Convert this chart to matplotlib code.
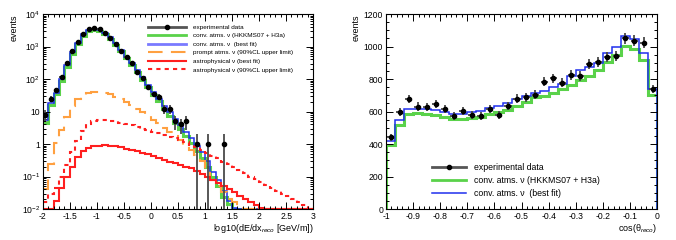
import numpy as np
import matplotlib
matplotlib.use("Agg")
import matplotlib.pyplot as plt
from matplotlib.lines import Line2D
from matplotlib.ticker import MultipleLocator, FixedLocator, LogLocator, NullFormatter, FuncFormatter

plt.rcParams['font.family'] = ['Liberation Sans', 'DejaVu Sans']
plt.rcParams['mathtext.fontset'] = 'custom'
plt.rcParams['mathtext.rm'] = 'Liberation Sans'
plt.rcParams['mathtext.it'] = 'Liberation Sans:italic'

# ---- left panel: energy loss proxy, 50 bins of 0.1 from -2 to 3 ----
dedx_edges = np.linspace(-2, 3, 51)

data_dedx = [8, 25, 47, 113, 305, 713, 1410, 2490, 3470, 3720,
             3380, 2550, 1875, 1230, 748, 465, 320, 165, 108, 56,
             35, 29, 12, 12, 5, 4, 5, 0, 1, 0,
             1, 0, 0, 1, 0, 0, 0, 0, 0, 0,
             0, 0, 0, 0, 0, 0, 0, 0, 0, 0]

conv_h3a_dedx = [4.6, 16, 34, 88, 240, 600, 1220, 2170, 3020, 3300,
                 3020, 2400, 1740, 1130, 710, 435, 268, 160, 96, 56,
                 33, 20.5, 12, 7.5, 4.6, 2.9, 1.8, 1.1, 0.62, 0.37,
                 0.2, 0.1, 0.05, 0.024, 0.014, 0.008, 0, 0, 0, 0,
                 0, 0, 0, 0, 0, 0, 0, 0, 0, 0]

conv_fit_dedx = [5.5, 18, 38, 100, 270, 660, 1330, 2350, 3250, 3550,
                 3250, 2600, 1900, 1250, 790, 490, 305, 185, 112, 66,
                 40, 25, 15, 9.5, 6, 3.8, 2.4, 1.5, 0.85, 0.55,
                 0.3, 0.14, 0.08, 0.036, 0.018, 0.011, 0, 0, 0, 0,
                 0, 0, 0, 0, 0, 0, 0, 0, 0, 0]

prompt_ul_dedx = [0.04, 0.25, 1.1, 2.8, 7, 15, 24, 32, 38, 41,
                  41, 38, 34, 29, 24, 19.5, 15.5, 12, 9.5, 7.2,
                  5.5, 4.3, 3.2, 2.4, 1.8, 1.35, 0.85, 0.66, 0.47, 0.3,
                  0.16, 0.08, 0.05, 0.033, 0.02, 0.016, 0.012, 0.008, 0, 0,
                  0, 0, 0, 0, 0, 0, 0, 0, 0, 0]

astro_fit_dedx = [0.005, 0.007, 0.018, 0.045, 0.1, 0.2, 0.4, 0.62, 0.78, 0.86,
                  0.9, 0.92, 0.9, 0.85, 0.79, 0.72, 0.66, 0.6, 0.54, 0.48,
                  0.42, 0.37, 0.33, 0.29, 0.255, 0.225, 0.2, 0.178, 0.148, 0.122,
                  0.1, 0.08, 0.063, 0.05, 0.041, 0.033, 0.026, 0.021, 0.017, 0.0135,
                  0.011, 0.009, 0, 0, 0, 0, 0, 0, 0, 0]

astro_ul_dedx = [0.016, 0.03, 0.045, 0.1, 0.22, 0.58, 1.25, 2.6, 4.2, 5.0,
                 5.4, 5.5, 5.3, 5.0, 4.6, 4.2, 3.8, 3.4, 3.0, 2.7,
                 2.4, 2.15, 1.9, 1.7, 1.5, 1.3, 1.12, 0.95, 0.8, 0.66,
                 0.54, 0.44, 0.36, 0.29, 0.235, 0.19, 0.155, 0.125, 0.1, 0.082,
                 0.066, 0.054, 0.044, 0.036, 0.03, 0.025, 0.021, 0.017, 0.013, 0.009]

# ---- right panel: zenith, 30 bins from -1 to 0 ----
cos_edges = np.linspace(-1, 0, 31)

data_cos = [442, 600, 676, 631, 627, 647, 614, 573, 602, 578,
            571, 614, 580, 635, 680, 688, 704, 784, 805, 778,
            825, 819, 891, 903, 938, 944, 1051, 1036, 1024, 739]

conv_h3a_cos = [395, 518, 586, 588, 586, 580, 565, 553, 553, 561,
                567, 586, 598, 610, 637, 661, 688, 696, 713, 737,
                766, 795, 819, 856, 907, 948, 1003, 987, 917, 702]

conv_fit_cos = [416, 545, 618, 618, 616, 610, 600, 586, 586, 598,
                606, 623, 635, 651, 678, 698, 713, 729, 750, 770,
                821, 854, 872, 897, 963, 995, 1063, 1044, 963, 737]

GREEN = '#5ad24a'
BLUE = '#1f2fee'
LIGHTBLUE = '#7a7aff'
ORANGE = '#ffa040'
RED = '#ff1f1f'
GRAY = '#4a4a4a'

fig = plt.figure(figsize=(6.76, 2.4), dpi=100)
ax1 = fig.add_axes([0.0632, 0.129, 0.400, 0.8125])
ax2 = fig.add_axes([0.571, 0.129, 0.401, 0.8125])

ymin = 1e-2


def floor(v):
    return np.clip(np.array(v, dtype=float), ymin, None)


def plain(v, pos):
    return '%g' % (round(v, 3) + 0.0)


ax1.stairs(floor(conv_h3a_dedx), dedx_edges, baseline=None, color=GREEN, lw=2.2)
ax1.stairs(floor(conv_fit_dedx), dedx_edges, baseline=None, color=BLUE, lw=1.1)
ax1.stairs(floor(prompt_ul_dedx), dedx_edges, baseline=None, color=ORANGE, lw=1.5,
           linestyle=(0, (7, 4)))
ax1.stairs(floor(astro_fit_dedx), dedx_edges, baseline=None, color=RED, lw=1.5)
ax1.stairs(floor(astro_ul_dedx), dedx_edges, baseline=None, color=RED, lw=1.5,
           linestyle=(0, (2, 2)))

centers = 0.5 * (dedx_edges[:-1] + dedx_edges[1:])
counts = np.array(data_dedx, dtype=float)
sel = counts > 0
ax1.errorbar(centers[sel], counts[sel], yerr=np.sqrt(counts[sel]), xerr=0.04,
             fmt='o', color='k', ecolor=GRAY, elinewidth=1.3, ms=3, capsize=0, zorder=5)

ax1.set_yscale('log')
ax1.set_xlim(-2, 3)
ax1.set_ylim(ymin, 1e4)
ax1.xaxis.set_major_locator(MultipleLocator(0.5))
ax1.xaxis.set_minor_locator(MultipleLocator(0.1))
ax1.xaxis.set_major_formatter(FuncFormatter(plain))
ax1.yaxis.set_major_locator(FixedLocator([1e-2, 1e-1, 1, 10, 1e2, 1e3, 1e4]))
ax1.yaxis.set_major_formatter(FuncFormatter(
    lambda v, p: {1e-2: '$10^{-2}$', 1e-1: '$10^{-1}$', 1: '1', 10: '10',
                  1e2: '$10^{2}$', 1e3: '$10^{3}$', 1e4: '$10^{4}$'}.get(v, '')))
ax1.yaxis.set_minor_locator(LogLocator(base=10, subs=np.arange(2, 10)))
ax1.yaxis.set_minor_formatter(NullFormatter())
ax1.set_ylabel('events', loc='top', fontsize=6.5, labelpad=2)
ax1.set_xlabel('log10(dE/dx$_{reco}$ [GeV/m])', loc='right', fontsize=6.5, labelpad=1)

handles1 = [
    Line2D([], [], color='#555555', lw=2, marker='o', ms=3, mfc='k', mec='k'),
    Line2D([], [], color=GREEN, lw=2),
    Line2D([], [], color=LIGHTBLUE, lw=2),
    Line2D([], [], color=ORANGE, lw=1.5, linestyle=(0, (7, 4))),
    Line2D([], [], color=RED, lw=1.5),
    Line2D([], [], color=RED, lw=1.5, linestyle=(0, (2, 2))),
]
labels1 = ['experimental data', 'conv. atms. ν (HKKMS07 + H3a)', 'conv. atms. ν  (best fit)',
           'prompt atms. ν (90%CL upper limit)', 'astrophysical ν (best fit)',
           'astrophysical ν (90%CL upper limit)']
ax1.legend(handles1, labels1, loc='upper left', bbox_to_anchor=(0.38, 0.96), frameon=False,
           fontsize=4.6, handlelength=6.0, handletextpad=1.0, labelspacing=0.48,
           borderaxespad=0, numpoints=1)

# right panel
ax2.stairs(conv_h3a_cos, cos_edges, baseline=0, color=GREEN, lw=2.2)
ax2.stairs(conv_fit_cos, cos_edges, baseline=0, color=BLUE, lw=1.1)
cc = 0.5 * (cos_edges[:-1] + cos_edges[1:])
dc = np.array(data_cos, dtype=float)
ax2.errorbar(cc, dc, yerr=np.sqrt(dc), xerr=0.013, fmt='o', color='k', ecolor=GRAY,
             elinewidth=1.3, ms=3, capsize=0, zorder=5)
ax2.set_xlim(-1, 0)
ax2.set_ylim(0, 1200)
ax2.xaxis.set_major_locator(MultipleLocator(0.1))
ax2.xaxis.set_minor_locator(MultipleLocator(0.02))
ax2.xaxis.set_major_formatter(FuncFormatter(plain))
ax2.yaxis.set_major_locator(MultipleLocator(200))
ax2.yaxis.set_minor_locator(MultipleLocator(50))
ax2.set_ylabel('events', loc='top', fontsize=6.5, labelpad=2)
ax2.set_xlabel('cos(θ$_{reco}$)', loc='right', fontsize=6.5, labelpad=1)

handles2 = [
    Line2D([], [], color='#555555', lw=2, marker='o', ms=3, mfc='k', mec='k'),
    Line2D([], [], color=GREEN, lw=2),
    Line2D([], [], color=BLUE, lw=1.1),
]
labels2 = ['experimental data', 'conv. atms. ν (HKKMS07 + H3a)', 'conv. atms. ν  (best fit)']
ax2.legend(handles2, labels2, loc='upper left', bbox_to_anchor=(0.155, 0.255), frameon=False,
           fontsize=6.3, handlelength=3.9, handletextpad=1.0, labelspacing=0.45,
           borderaxespad=0, numpoints=1)

for ax in (ax1, ax2):
    ax.tick_params(which='both', direction='in', top=True, right=True, labelsize=6.2,
                   width=0.7, pad=2)
    ax.tick_params(which='major', length=5)
    ax.tick_params(which='minor', length=2.5)
    for s in ax.spines.values():
        s.set_linewidth(0.8)

fig.savefig('out.png', dpi=100)
